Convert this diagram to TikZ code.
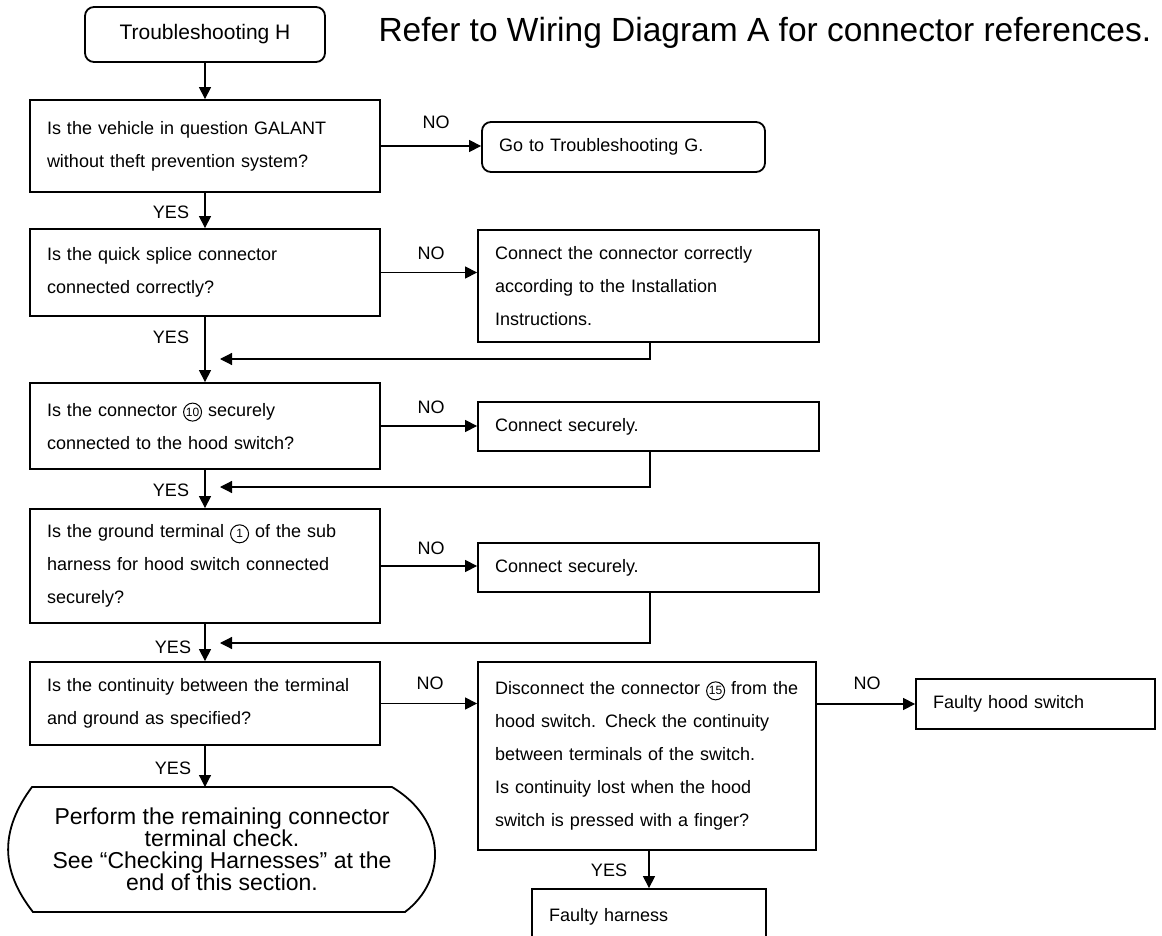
\documentclass[tikz,border=0pt]{standalone}
\usepackage{fontspec}
\setmainfont{Liberation Sans}
\usetikzlibrary{arrows.meta, positioning, calc}

% circled connector number
\newcommand{\cnum}[1]{\tikz[baseline=(cn.base)]\node[circle, draw, line width=1pt,
  inner sep=0.3pt, minimum size=18pt, font=\fontsize{12}{12}\selectfont] (cn) {#1};}

\begin{document}
\begin{tikzpicture}[
  x=1pt, y=-1pt,
  qbox/.style={draw, line width=1.8pt, minimum width=350pt, text width=316pt,
               inner xsep=17pt, align=left, font=\fontsize{18}{33}\selectfont},
  abox/.style={draw, line width=1.8pt, inner xsep=17pt, align=left,
               font=\fontsize{18}{33}\selectfont},
  rbox/.style={abox, rounded corners=9pt},
  flow/.style={line width=1.2pt, -{Triangle[length=12pt,width=12pt]}},
  lbl/.style={font=\fontsize{18}{20}\selectfont}
]
\useasboundingbox (0,0) rectangle (1162,936);

% Header
\node[rbox, align=center, minimum width=240pt, minimum height=55pt,
      font=\fontsize{21}{24}\selectfont] (start) at (205,34.5) {Troubleshooting H};
\node[anchor=base west, font=\fontsize{33.5}{38}\selectfont] (ref) at (375,42)
  {Refer to Wiring Diagram A for connector references.};

% Questions
\node[qbox, minimum height=92pt] (q1) at (205,146)
  {Is the vehicle in question GALANT\\without theft prevention system?};
\node[qbox, minimum height=87pt] (q2) at (205,272.5)
  {Is the quick splice connector\\connected correctly?};
\node[qbox, minimum height=86pt] (q3) at (205,426)
  {Is the connector \cnum{10} securely\\connected to the hood switch?};
\node[qbox, minimum height=114pt] (q4) at (205,566)
  {Is the ground terminal \cnum{1} of the sub\\harness for hood switch connected\\securely?};
\node[qbox, minimum height=83pt] (q5) at (205,703.5)
  {Is the continuity between the terminal\\and ground as specified?};

% Actions
\node[rbox, minimum width=283pt, text width=249pt, minimum height=50pt] (g) at (623.5,147)
  {Go to Troubleshooting G.};
\node[abox, minimum width=341pt, text width=307pt, minimum height=112pt] (c1) at (648.5,286)
  {Connect the connector correctly\\according to the Installation\\Instructions.};
\node[abox, minimum width=341pt, text width=307pt, minimum height=49pt] (c2) at (648.5,426.5)
  {Connect securely.};
\node[abox, minimum width=341pt, text width=307pt, minimum height=49pt] (c3) at (648.5,567.5)
  {Connect securely.};
\node[abox, minimum width=338pt, text width=304pt, minimum height=188pt] (d) at (647,756)
  {Disconnect the connector \cnum{15} from the\\hood switch. Check the continuity\\between terminals of the switch.\\Is continuity lost when the hood\\switch is pressed with a finger?};
\node[abox, minimum width=239pt, text width=205pt, minimum height=50pt] (fh) at (1035.5,704)
  {Faulty hood switch};
\node[abox, minimum width=234pt, text width=200pt, minimum height=56pt] (fhar) at (649,917)
  {Faulty harness};

% End
\draw[line width=1.8pt] (32,787) -- (392,787) .. controls (447,820) and (447,880) .. (405,912)
  -- (33,912) .. controls (0,870) and (0,830) .. (32,787) -- cycle;
\node[align=center, font=\fontsize{23}{22}\selectfont] (fin) at (222,849)
  {Perform the remaining connector\\terminal check.\\See “Checking Harnesses” at the\\end of this section.};
\coordinate (fintop) at (205,787);

% Loop-back points
\coordinate (lx) at (650,0);
\coordinate (j1) at (220,359);
\coordinate (j2) at (220,487);
\coordinate (j3) at (220,643);

% YES flow
\draw[flow] (start.south) -- (q1.north);
\draw[flow] (q1.south) -- (q2.north);
\draw[flow] (q2.south) -- (q3.north);
\draw[flow] (q3.south) -- (q4.north);
\draw[flow] (q4.south) -- (q5.north);
\draw[flow] (q5.south) -- (fintop);
\draw[flow] (d.south -| fhar.north) -- (fhar.north);

% NO flow
\draw[flow] (q1.east) -- (q1.east -| g.west);
\draw[flow] (q2.east) -- (q2.east -| c1.west);
\draw[flow] (q3.east) -- (q3.east -| c2.west);
\draw[flow] (q4.east) -- (q4.east -| c3.west);
\draw[flow] (q5.east) -- (q5.east -| d.west);
\draw[flow] (fh.west -| d.east) -- (fh.west);

% Return lines
\draw[flow] (c1.south -| lx) |- (j1);
\draw[flow] (c2.south -| lx) |- (j2);
\draw[flow] (c3.south -| lx) |- (j3);

% Labels
\node[lbl] (y1) at (171,212) {YES};
\node[lbl] (y2) at (171,337) {YES};
\node[lbl] (y3) at (171,490) {YES};
\node[lbl] (y4) at (173,647) {YES};
\node[lbl] (y5) at (173,768) {YES};
\node[lbl] (y6) at (609,870) {YES};
\node[lbl] (n1) at (436,122) {NO};
\node[lbl] (n2) at (431,253) {NO};
\node[lbl] (n3) at (431,407) {NO};
\node[lbl] (n4) at (431,548) {NO};
\node[lbl] (n5) at (430,683) {NO};
\node[lbl] (n6) at (867,683) {NO};

\end{tikzpicture}
\end{document}
